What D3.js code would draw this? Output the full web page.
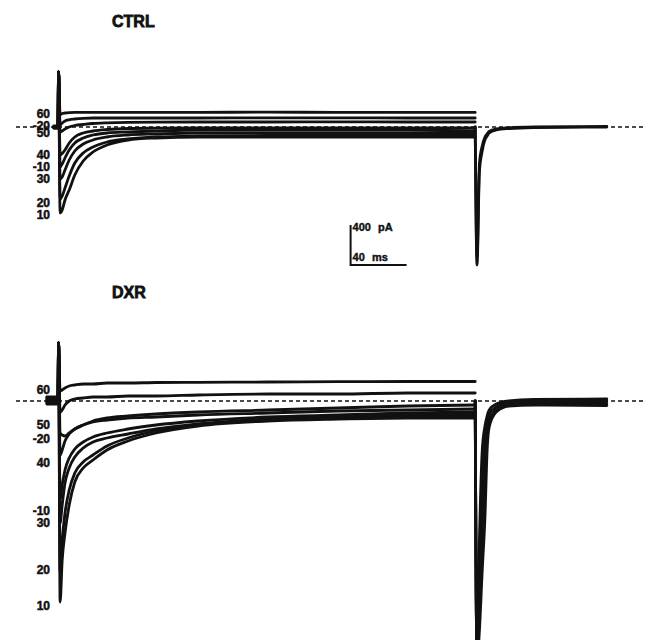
<!DOCTYPE html>
<meta charset="utf-8">
<style>
body { margin: 0; background: #fff; }
svg { display: block; }
.trace { fill: none; stroke: #111; stroke-width: 2.8; stroke-linejoin: round; stroke-linecap: round; }
.base { stroke: #111; stroke-width: 1.6; stroke-dasharray: 4,3; }
.bar { stroke: #111; stroke-width: 2; fill: none; }
.lbl { font: bold 12px "Liberation Sans", Arial, sans-serif; text-anchor: end; fill: #111; stroke: #111; stroke-width: 0.5; }
.title { font: bold 16px "Liberation Sans", Arial, sans-serif; fill: #111; stroke: #111; stroke-width: 0.8; }
.bartext { font: bold 11px "Liberation Sans", Arial, sans-serif; fill: #111; stroke: #111; stroke-width: 0.4; word-spacing: 4px; }
</style>
<div class="chart"></div>
<script src="https://cdn.jsdelivr.net/npm/d3@7"></script>
<script>

// read-off times (ms) during the step and for the tail after it
var stepTimes = [1.5, 3, 5, 8, 12, 18, 25, 35, 50, 70, 100, 150, 200, 250, 298];
var tailTimes = [298, 299.3, 301, 303, 305, 306.5, 308, 313, 322, 340, 392];

// CTRL: step potentials (mV) and currents (pA)
var ctrlNames = ["60", "-20", "50", "40", "-10", "30", "20", "10"];
var ctrlLabelLevels = [130, 10, -60, -280, -400, -520, -760, -880];
var ctrlHold = [10, 5, 0, 0, -5, -5, -10, -10];
var ctrlArtifact = 550;
var ctrlSteps = [
  [125, 135, 140, 144, 146, 146, 147, 147, 146, 146, 147, 148, 147, 147, 146],
  [20, 40, 60, 72, 80, 87, 90, 90, 90, 90, 90, 92, 92, 90, 90],
  [-50, -40, -20, 0, 15, 25, 35, 42, 47, 49, 50, 50, 51, 50, 50],
  [-280, -265, -230, -160, -100, -60, -40, -25, -15, -12, -10, -10, -10, -10, -10],
  [-400, -370, -310, -230, -160, -110, -80, -60, -50, -40, -30, -30, -30, -30, -40],
  [-520, -500, -430, -330, -240, -170, -130, -100, -80, -70, -60, -60, -60, -60, -60],
  [-720, -690, -610, -490, -360, -260, -200, -150, -120, -100, -90, -85, -85, -80, -80],
  [-860, -830, -730, -630, -480, -340, -250, -180, -130, -110, -100, -100, -100, -100, -100]
];
var ctrlTails = [
  [0, -1380, -450, -240, -125, -90, -60, -30, -15, -5, 0],
  [0, -1300, -370, -190, -100, -70, -45, -20, -8, 0, 5]
];

// DXR
var dxrNames = ["60", "50", "-20", "40", "-10", "30", "20", "10"];
var dxrLabelLevels = [110, -240, -380, -620, -1100, -1220, -1690, -2050];
var dxrHold = [40, 30, 20, 10, 0, -10, -20, -30];
var dxrArtifact = 580;
var dxrSteps = [
  [100, 110, 130, 150, 160, 170, 170, 180, 180, 185, 187, 190, 193, 195, 195],
  [-110, -90, -40, 0, 20, 30, 40, 40, 50, 50, 60, 70, 70, 80, 80],
  [-320, -340, -350, -320, -280, -240, -200, -170, -150, -130, -110, -90, -70, -50, -40],
  [-540, -490, -400, -330, -280, -240, -210, -190, -170, -160, -140, -120, -100, -90, -80],
  [-990, -840, -690, -570, -480, -410, -360, -320, -280, -240, -200, -160, -140, -120, -110],
  [-1220, -1040, -820, -670, -560, -470, -410, -370, -330, -280, -230, -180, -150, -140, -130],
  [-1710, -1390, -1120, -890, -720, -610, -540, -450, -370, -300, -240, -190, -170, -160, -150],
  [-2010, -1590, -1320, -1040, -810, -670, -590, -490, -400, -320, -250, -200, -180, -170, -170]
];
var dxrTails = [
  [0, -2600, -1400, -500, -250, -150, -90, -30, 0, 15, 20],
  [0, -2600, -1800, -800, -400, -220, -140, -60, -20, -5, 0],
  [0, -2600, -2100, -1300, -650, -340, -200, -90, -40, -25, -25],
  [0, -2600, -2300, -1700, -1150, -500, -260, -110, -50, -40, -45]
];

var width = 648, height = 640;

var svg = d3.select(".chart").append("svg")
    .attr("width", width)
    .attr("height", height);

var x = d3.scaleLinear().domain([-30, 420]).range([16, 646]);

var panels = [
  {title: "CTRL", titleY: 27, base: 127, pre: -3, names: ctrlNames, levels: ctrlLabelLevels,
   hold: ctrlHold, artifact: ctrlArtifact, steps: ctrlSteps, tails: ctrlTails},
  {title: "DXR", titleY: 298, base: 401, pre: -8, names: dxrNames, levels: dxrLabelLevels,
   hold: dxrHold, artifact: dxrArtifact, steps: dxrSteps, tails: dxrTails}
];

panels.forEach(function(p) {
  // 0.1 px per pA
  var y = d3.scaleLinear().domain([0, 1000]).range([p.base, p.base - 100]);
  p.y = y;

  var line = d3.line()
      .x(function(d) { return x(d[0]); })
      .y(function(d) { return y(d[1]); })
      .curve(d3.curveMonotoneX);

  var g = svg.append("g");

  g.append("text")
      .attr("class", "title")
      .attr("x", 112)
      .attr("y", p.titleY)
      .text(p.title);

  g.append("line")
      .attr("class", "base")
      .attr("x1", x.range()[0])
      .attr("x2", x.range()[1])
      .attr("y1", y(0))
      .attr("y2", y(0));

  g.selectAll("path.step")
      .data(p.steps)
      .enter()
      .append("path")
      .attr("class", "trace step")
      .attr("d", function(vals, i) {
        var pts = [[p.pre, p.hold[i]], [0, p.hold[i]], [0.4, p.artifact]];
        stepTimes.forEach(function(t, j) { pts.push([t, vals[j]]); });
        return line(pts);
      });

  g.selectAll("path.tail")
      .data(p.tails)
      .enter()
      .append("path")
      .attr("class", "trace tail")
      .attr("d", function(vals) {
        return line(tailTimes.map(function(t, j) { return [t, vals[j]]; }));
      });

  g.selectAll("text.lbl")
      .data(p.names)
      .enter()
      .append("text")
      .attr("class", "lbl")
      .attr("x", 50)
      .attr("y", function(d, i) { return y(p.levels[i]); })
      .attr("dy", "0.35em")
      .text(function(d) { return d; });
});

// scale bar: 400 pA, 40 ms
var yc = panels[0].y;
var barT = 209, barI = -1380;
var bar = svg.append("g");
bar.append("path")
    .attr("class", "bar")
    .attr("d", "M" + x(barT) + "," + yc(barI + 400) +
               "V" + yc(barI) + "H" + x(barT + 40));
bar.append("text")
    .attr("class", "bartext")
    .attr("x", x(barT) + 2)
    .attr("y", yc(barI + 400) + 6)
    .text("400 pA");
bar.append("text")
    .attr("class", "bartext")
    .attr("x", x(barT) + 2)
    .attr("y", yc(barI) - 4)
    .text("40 ms");

</script>
